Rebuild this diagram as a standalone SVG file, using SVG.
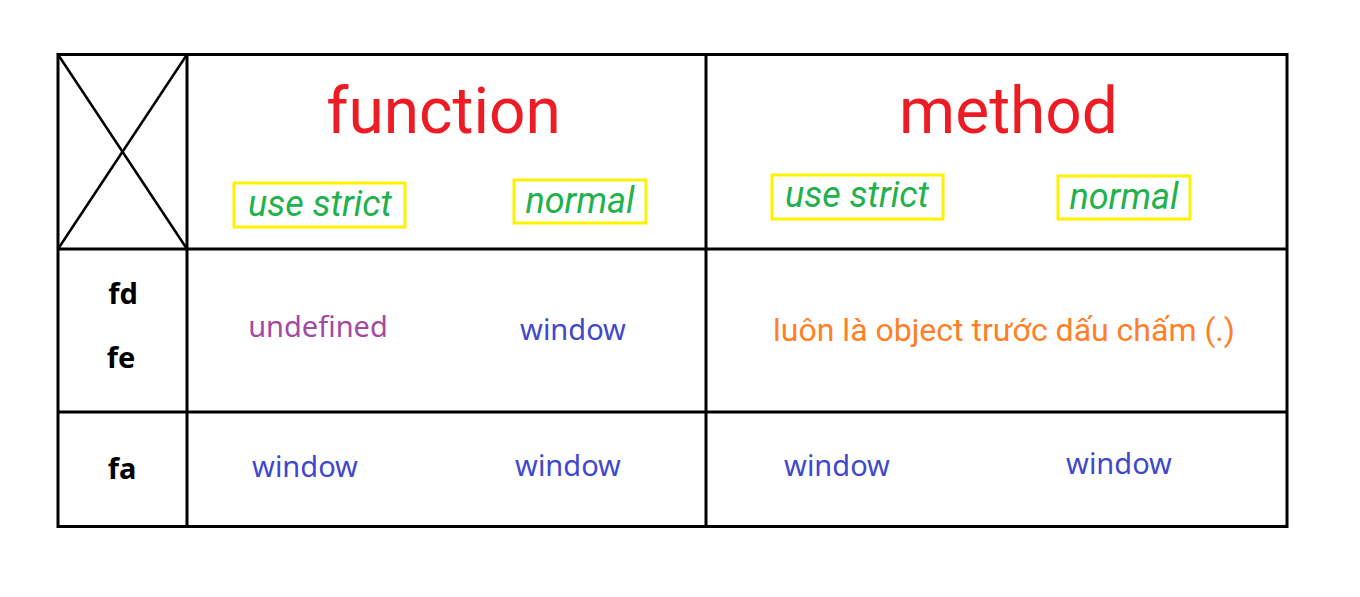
<svg xmlns="http://www.w3.org/2000/svg" width="1360" height="597" viewBox="0 0 1360 597">
<style>
.grid{stroke:#000;stroke-width:3;fill:none}
.diag{stroke:#000;stroke-width:2.5;fill:none}
.box{stroke:#fff200;stroke-width:3;fill:none}
.head{font-family:Roboto,"Liberation Sans",sans-serif;font-size:64px;fill:#ed1c24;text-anchor:middle}
.mode{font-family:Roboto,"Liberation Sans",sans-serif;font-size:36px;font-style:italic;fill:#22b14c;text-anchor:middle}
.row{font-family:"Noto Sans","Liberation Sans",sans-serif;font-size:29px;font-weight:bold;fill:#000;text-anchor:middle}
.val{font-family:"Noto Sans","Liberation Sans",sans-serif;font-size:29px;text-anchor:middle}
.blue{fill:#3f48cc}
.purple{fill:#a349a4}
.orange{font-family:Roboto,"Liberation Sans",sans-serif;font-size:32px;fill:#ff7f27;text-anchor:middle}
</style>
<rect width="1360" height="597" fill="#fff"/>
<g id="grid">
<rect class="grid" x="58" y="54.5" width="1229" height="472"/>
<line class="grid" x1="187" y1="54.5" x2="187" y2="526.5"/>
<line class="grid" x1="706" y1="54.5" x2="706" y2="526.5"/>
<line class="grid" x1="58" y1="249" x2="1287" y2="249"/>
<line class="grid" x1="58" y1="412" x2="1287" y2="412"/>
<line class="diag" x1="58" y1="54.5" x2="187" y2="249"/>
<line class="diag" x1="187" y1="54.5" x2="58" y2="249"/>
</g>
<g id="connectors"></g>
<g id="head-function">
<text class="head" x="443.5" y="133">function</text>
</g>
<g id="head-method">
<text class="head" x="1008.5" y="133">method</text>
</g>
<g id="function-strict">
<rect class="box" x="234" y="183" width="171" height="44"/>
<text class="mode" x="320" y="216">use strict</text>
</g>
<g id="function-normal">
<rect class="box" x="514" y="180" width="132" height="43"/>
<text class="mode" x="580" y="213">normal</text>
</g>
<g id="method-strict">
<rect class="box" x="772" y="175" width="171" height="44"/>
<text class="mode" x="857" y="207">use strict</text>
</g>
<g id="method-normal">
<rect class="box" x="1058" y="176" width="132" height="43"/>
<text class="mode" x="1124" y="209">normal</text>
</g>
<g id="row-fd-fe">
<text class="row" x="123" y="304">fd</text>
<text class="row" x="121" y="368">fe</text>
</g>
<g id="row-fa">
<text class="row" x="122" y="479">fa</text>
</g>
<g id="fdfe-function-strict">
<text class="val purple" x="318" y="337">undefined</text>
</g>
<g id="fdfe-function-normal">
<text class="val blue" x="573" y="340">window</text>
</g>
<g id="fdfe-method">
<text class="orange" x="1004" y="341">luôn là object trước dấu chấm (.)</text>
</g>
<g id="fa-function-strict">
<text class="val blue" x="305" y="477">window</text>
</g>
<g id="fa-function-normal">
<text class="val blue" x="568" y="476">window</text>
</g>
<g id="fa-method-strict">
<text class="val blue" x="837" y="476">window</text>
</g>
<g id="fa-method-normal">
<text class="val blue" x="1119" y="474">window</text>
</g>
</svg>
